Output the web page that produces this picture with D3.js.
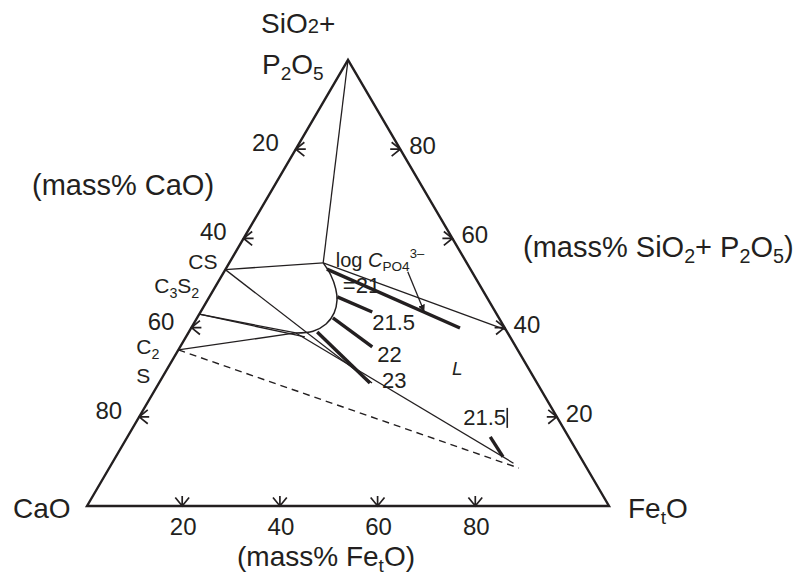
<!DOCTYPE html>
<html>
<head>
<meta charset="utf-8">
<script src="https://cdn.jsdelivr.net/npm/d3@7"></script>
<style>
  body { margin: 0; background: #fff; }
  svg { display: block; }
  text { font-family: "Liberation Sans", Arial, sans-serif; fill: #231f20; }
</style>
</head>
<body>
<div id="chart"></div>
<script>
// compositions are [CaO, SiO2+P2O5, FetO] in mass%
const tickValues = [20, 40, 60, 80];
const compounds = [
  { label: 'CS', comp: [47, 53, 0] },
  { label: 'C3S2', comp: [57, 43, 0] },
  { label: 'C2S', comp: [65, 35, 0] }
];
const liquidus = [
  [27.5, 54.5, 18], [27.4, 51.8, 20.8], [28, 48.7, 23.3], [29, 46.2, 24.8],
  [31, 43.3, 25.7], [33.8, 40.8, 25.4], [37.1, 39.2, 23.7], [40.6, 38.8, 20.6]
];
const thinLines = [
  [[0, 100, 0], [27.5, 54.5, 18]],
  [[47, 53, 0], [27.5, 54.5, 18]],
  [[27.5, 54.5, 18], [0, 39.5, 60.5]],
  [[47, 53, 0], [31.6, 27.6, 40.8]],
  [[57, 43, 0], [40.6, 38.8, 20.6]],
  [[57, 43, 0], [39.3, 37.9, 22.8]],
  [[65, 35, 0], [40.6, 38.8, 20.6]],
  [[40.6, 38.8, 20.6], [13.5, 9.6, 76.9]]
];
const dashedLines = [
  [[65, 35, 0], [13, 8.5, 78.5]]
];
// iso-lines of log C_PO4^3-
const isoLabels = ['=21', '21.5', '22', '23', '21.5'];
const isoLines = [
  [[27.5, 53.1, 19.4], [8.6, 39.9, 51.5]],
  [[28.7, 46.9, 24.5], [23.6, 43.5, 32.9]],
  [[31.8, 42.2, 26], [27.6, 35.7, 36.8]],
  [[36.4, 39, 24.6], [32, 27.6, 40.4]],
  [[15, 15.5, 69.5], [14.8, 11, 74.2]]
];
const pointerArrow = [[12.3, 52.5, 35.2], [13.6, 43.7, 42.7]];
const liquidLabel = [[15.4, 29.4, 55.2]];

const [width, height] = [801, 578];
const svg = d3.select('#chart').append('svg')
  .attr('width', width).attr('height', height);

// ternary projection through two linear scales
const xs = d3.scaleLinear().domain([0, 100]).range([87, 609]);
const ys = d3.scaleLinear().domain([0, 100]).range([506, 60]);
const proj = c => [xs(c[2] + c[1] / 2), ys(c[1])];
// bottom tick marks in the original sit on a slightly compressed scale
const feTick = d3.scaleLinear().domain([0, 100]).range([84.5, 573]);

const line = d3.line();
const ink = '#231f20';

// triangle
svg.append('path')
  .attr('d', line([proj([100, 0, 0]), proj([0, 100, 0]), proj([0, 0, 100])]) + 'Z')
  .attr('fill', 'none').attr('stroke', ink).attr('stroke-width', 2.4)
  .attr('stroke-linejoin', 'miter');

// little arrow ticks
function tickArrow(tip, dir) {
  const a = Math.atan2(dir[1], dir[0]);
  const arm = 11, spread = 0.68, shaft = 10;
  const p1 = [tip[0] - arm * Math.cos(a - spread), tip[1] - arm * Math.sin(a - spread)];
  const p2 = [tip[0] - arm * Math.cos(a + spread), tip[1] - arm * Math.sin(a + spread)];
  const s = [tip[0] - shaft * Math.cos(a), tip[1] - shaft * Math.sin(a)];
  return `M${p1}L${tip}L${p2}M${tip}L${s}`;
}
const ticksG = svg.append('g').attr('fill', 'none').attr('stroke', ink).attr('stroke-width', 1.7);
tickValues.forEach(v => {
  // CaO on the left edge
  ticksG.append('path').attr('d', tickArrow(proj([v, 100 - v, 0]), [-1, 0]));
  // SiO2+P2O5 on the right edge
  ticksG.append('path').attr('d', tickArrow(proj([0, v, 100 - v]), [1, 0]));
  // FetO on the base
  ticksG.append('path').attr('d', tickArrow([feTick(v), ys(0)], [0, 1]));
});

// tick labels
const tl = svg.append('g').attr('font-size', 24);
tickValues.forEach(v => {
  const l = proj([v, 100 - v, 0]);
  tl.append('text').attr('x', l[0] - 17).attr('y', l[1] + 2).attr('text-anchor', 'end').text(v);
  const r = proj([0, v, 100 - v]);
  tl.append('text').attr('x', r[0] + 9).attr('y', r[1] + 5).text(v);
  tl.append('text').attr('x', feTick(v) + 1).attr('y', 535).attr('text-anchor', 'middle').text(v);
});

// phase lines
const inner = svg.append('g').attr('fill', 'none').attr('stroke', ink);
inner.selectAll('path.thin').data(thinLines).join('path')
  .attr('class', 'thin').attr('d', d => line(d.map(proj))).attr('stroke-width', 1.3);
inner.selectAll('path.dash').data(dashedLines).join('path')
  .attr('class', 'dash').attr('d', d => line(d.map(proj)))
  .attr('stroke-width', 1.4).attr('stroke-dasharray', '7,5');
inner.append('path')
  .attr('d', d3.line().curve(d3.curveCatmullRom)(liquidus.map(proj)))
  .attr('stroke-width', 1.5);
inner.selectAll('path.iso').data(isoLines).join('path')
  .attr('class', 'iso').attr('d', d => line(d.map(proj)))
  .attr('stroke-width', 3.4).attr('stroke-linecap', 'butt');

// text helper for sub/superscripts
function rich(x, y, parts, size, anchor) {
  const t = svg.append('text').attr('x', x).attr('y', y).attr('font-size', size)
    .attr('text-anchor', anchor || 'start');
  let shift = 0;
  parts.forEach(([str, kind]) => {
    const sp = t.append('tspan').text(str);
    let target = 0, fs = size;
    if (kind === 'sub') { target = size * 0.22; fs = size * 0.68; }
    if (kind === 'sup') { target = -size * 0.42; fs = size * 0.65; }
    if (kind === 'small') { fs = size * 0.72; }
    if (kind === 'i') sp.attr('font-style', 'italic');
    sp.attr('font-size', fs).attr('dy', target - shift);
    shift = target;
  });
  return t;
}

// labels for iso-lines
const isoOffsets = [[16, 24], [0, 18], [5, 15], [12, 5], [-27, -12]];
isoLines.forEach((d, i) => {
  const base = i === 0 || i === 4 ? proj(d[0]) : proj(d[1]);
  svg.append('text').attr('x', base[0] + isoOffsets[i][0]).attr('y', base[1] + isoOffsets[i][1])
    .attr('font-size', 22).text(isoLabels[i]);
});
// stray cursor bar next to the lower 21.5
const lb = proj(isoLines[4][0]);
svg.append('line').attr('x1', lb[0] + 17).attr('x2', lb[0] + 17)
  .attr('y1', lb[1] - 29).attr('y2', lb[1] - 9).attr('stroke', ink).attr('stroke-width', 1.6);

// log C_PO4 label with pointer
const pa = proj(pointerArrow[0]);
rich(pa[0] - 72, pa[1] - 5, [['log ', ''], ['C', 'i'], ['PO4', 'sub'], ['3–', 'sup']], 20);
svg.append('defs').append('marker').attr('id', 'head').attr('viewBox', '0 0 10 10')
  .attr('refX', 9).attr('refY', 5).attr('markerWidth', 7).attr('markerHeight', 7)
  .attr('orient', 'auto').attr('markerUnits', 'userSpaceOnUse')
  .append('path').attr('d', 'M0,0L10,5L0,10Z').attr('fill', ink);
svg.append('path').attr('d', line(pointerArrow.map(proj)))
  .attr('stroke', ink).attr('stroke-width', 1.3).attr('marker-end', 'url(#head)');

// liquid region label
const lp = proj(liquidLabel[0]);
svg.append('text').attr('x', lp[0]).attr('y', lp[1]).attr('font-size', 19)
  .attr('font-style', 'italic').text('L');

// compound labels on CaO-SiO2 side
const cs = proj(compounds[0].comp);
svg.append('text').attr('x', cs[0] - 37).attr('y', cs[1] - 1).attr('font-size', 21).text('CS');
const c3 = proj(compounds[1].comp);
rich(c3[0] - 45, c3[1] - 21, [['C', ''], ['3', 'sub'], ['S', ''], ['2', 'sub']], 21);
const c2 = proj(compounds[2].comp);
rich(c2[0] - 42, c2[1] + 4, [['C', ''], ['2', 'sub']], 21);
svg.append('text').attr('x', c2[0] - 42).attr('y', c2[1] + 33).attr('font-size', 21).text('S');

// vertex labels
svg.append('text').attr('x', 13).attr('y', 518).attr('font-size', 28).text('CaO');
rich(628, 518, [['Fe', ''], ['t', 'sub'], ['O', '']], 28);
rich(261, 33, [['SiO', ''], ['2', 'small'], ['+', '']], 28);
rich(262, 74, [['P', ''], ['2', 'sub'], ['O', ''], ['5', 'sub']], 28);

// axis titles
svg.append('text').attr('x', 32).attr('y', 195).attr('font-size', 29).text('(mass% CaO)');
rich(523, 257, [['(mass% SiO', ''], ['2', 'sub'], ['+ P', ''], ['2', 'sub'], ['O', ''], ['5', 'sub'], [')', '']], 29);
rich(326, 566, [['(mass% Fe', ''], ['t', 'sub'], ['O)', '']], 28, 'middle');
</script>
</body>
</html>
